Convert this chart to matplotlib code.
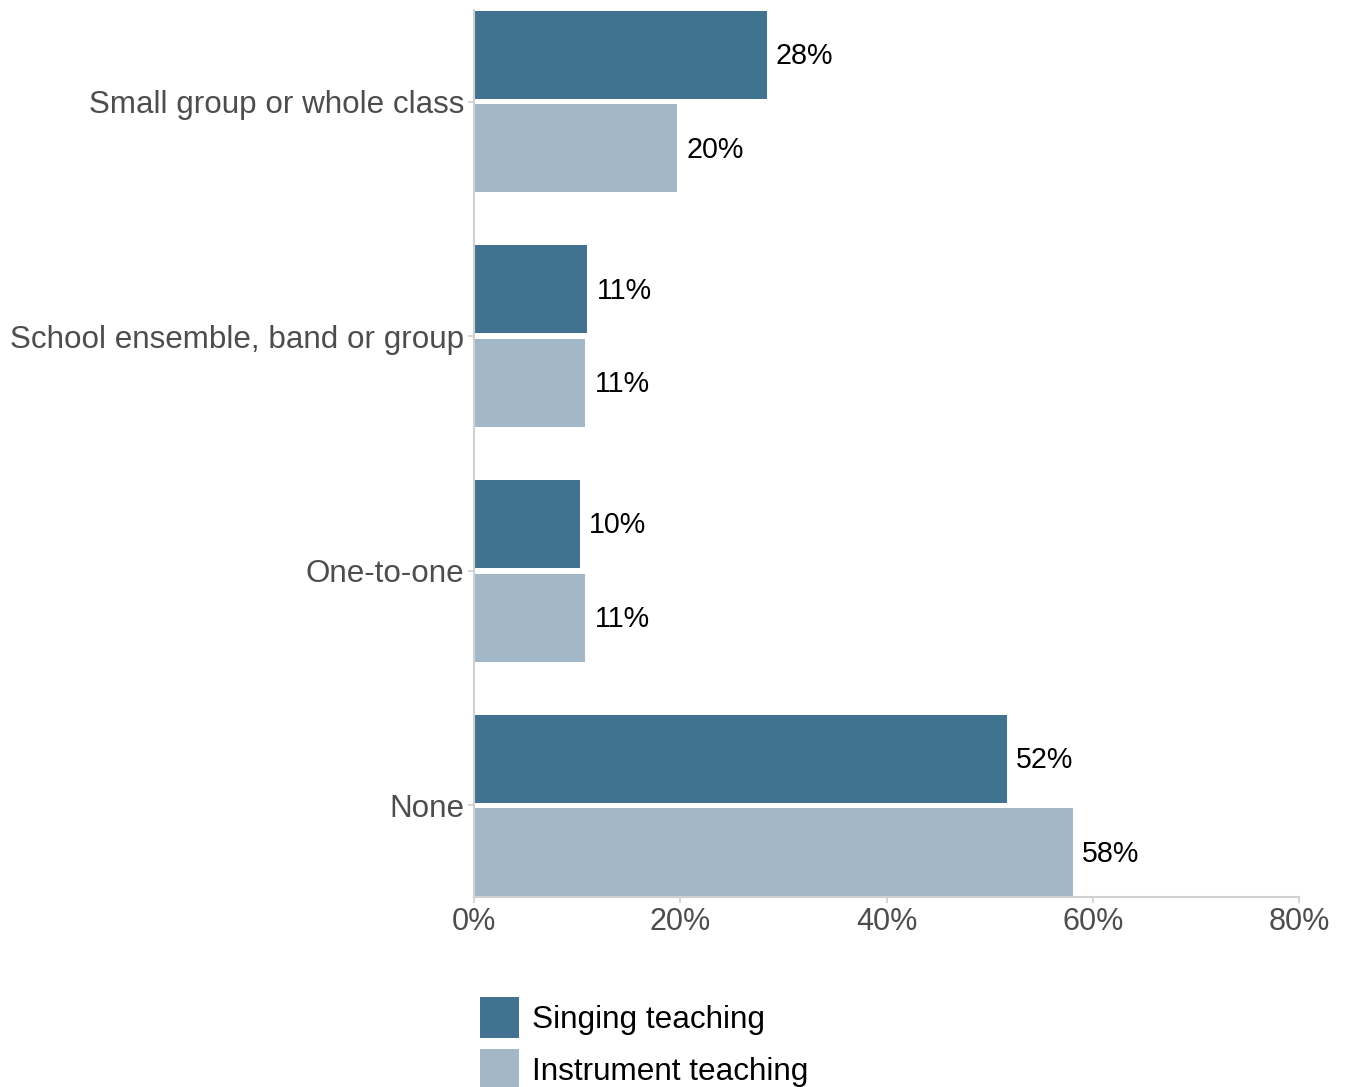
import matplotlib
matplotlib.use("Agg")
import matplotlib.pyplot as plt
from matplotlib.patches import Patch
import numpy as np

plt.rcParams["font.family"] = ["Liberation Sans", "DejaVu Sans"]

categories = ["Small group or whole class", "School ensemble, band or group",
              "One-to-one", "None"]
singing = [28.4, 11.0, 10.3, 51.7]
instrument = [19.7, 10.8, 10.8, 58.1]
series_names = ["Singing teaching", "Instrument teaching"]
x_ticks = [0, 20, 40, 60, 80]

dark = "#41728f"
light = "#a2b8c8"
axis_grey = "#d0d0d0"
text_grey = "#4d4d4d"

fig = plt.figure(figsize=(13.46, 10.87), dpi=100)
ax = fig.add_axes([474 / 1346, 190 / 1087, 825 / 1346, 887 / 1087])

pos = np.arange(len(categories))
offset = 0.2
bar_h = 0.375

b1 = ax.barh(pos - offset, singing, height=bar_h, color=dark, linewidth=0)
b2 = ax.barh(pos + offset, instrument, height=bar_h, color=light, linewidth=0)

for bars, vals in ((b1, singing), (b2, instrument)):
    for rect, v in zip(bars, vals):
        ax.annotate(f"{v:.0f}%", xy=(v, rect.get_y() + rect.get_height() / 2),
                    xytext=(6.5, -1), textcoords="offset points",
                    ha="left", va="center", fontsize=20.6, color="black")

ax.set_xlim(0, 80)
ax.set_ylim(3.39, -0.39)
ax.set_xticks(x_ticks)
ax.set_xticklabels([f"{t}%" for t in x_ticks])
ax.set_yticks(pos)
ax.set_yticklabels(categories)

for side in ("top", "right"):
    ax.spines[side].set_visible(False)
for side in ("left", "bottom"):
    ax.spines[side].set_color(axis_grey)
    ax.spines[side].set_linewidth(1.5)

ax.tick_params(axis="both", colors=axis_grey, labelcolor=text_grey,
               length=4, width=1.2)
ax.tick_params(axis="x", pad=3, labelsize=22)
ax.tick_params(axis="y", pad=3, labelsize=22.6)

handles = [Patch(facecolor=dark, edgecolor="none"),
           Patch(facecolor=light, edgecolor="none")]
fig.legend(handles, series_names, loc="upper left",
           bbox_to_anchor=(474 / 1346, 1 - 991 / 1087),
           frameon=False, fontsize=22.7, handlelength=1.22, handleheight=1.6,
           handletextpad=0.42, labelspacing=0.37, borderaxespad=0,
           borderpad=0.2)

fig.savefig("out.png", dpi=100)
